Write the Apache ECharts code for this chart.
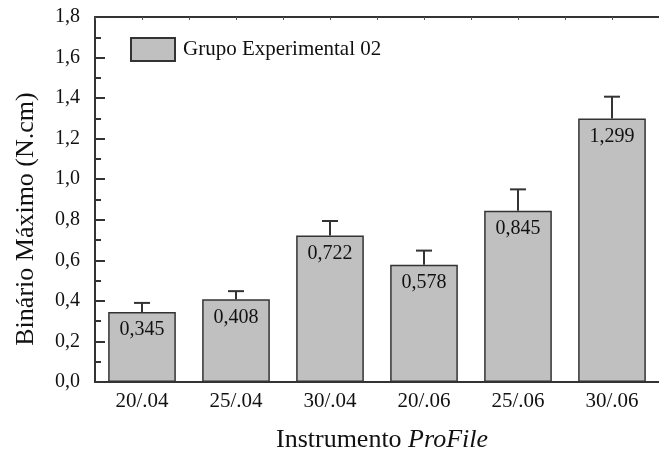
<!DOCTYPE html>
<html>
<head>
<meta charset="utf-8">
<script src="https://cdn.jsdelivr.net/npm/echarts@6/dist/echarts.min.js"></script>
<style>html,body{margin:0;padding:0;background:#fff;}#c{width:659px;height:455px;}</style>
</head>
<body>
<div id="c"></div>
<script>
var categories = ['20/.04', '25/.04', '30/.04', '20/.06', '25/.06', '30/.06'];
var means = [0.345, 0.408, 0.722, 0.578, 0.845, 1.299];
var errors = [0.045, 0.040, 0.072, 0.070, 0.105, 0.108];
var meanLabels = ['0,345', '0,408', '0,722', '0,578', '0,845', '1,299'];
var yTicks = ['0,0', '0,2', '0,4', '0,6', '0,8', '1,0', '1,2', '1,4', '1,6', '1,8'];

var FONT = 'Liberation Serif';
var TXT = '#111';
var chart = echarts.init(document.getElementById('c'));
var errData = means.map(function (m, i) { return [i, m, errors[i]]; });

chart.setOption({
  animation: false,
  backgroundColor: '#fff',
  grid: { left: 95, top: 17, right: -8, bottom: 73 },
  legend: {
    left: 125, top: 32,
    itemWidth: 44, itemHeight: 23, itemGap: 10,
    icon: 'rect',
    textStyle: { fontFamily: FONT, fontSize: 21, color: TXT, padding: [0, 0, 0, 3] },
    data: ['Grupo Experimental 02']
  },
  xAxis: [{
    type: 'category',
    data: categories,
    axisLine: { lineStyle: { color: '#333', width: 2 } },
    axisTick: { inside: true, length: 4, alignWithLabel: false, lineStyle: { color: '#333', width: 2 } },
    axisLabel: { fontFamily: FONT, fontSize: 21, color: TXT, margin: 9 }
  }, {
    type: 'value',
    position: 'top',
    min: 0, max: 6, interval: 0.5,
    axisLine: { show: true, onZero: false, lineStyle: { color: '#333', width: 2 } },
    axisTick: { inside: true, length: 3, lineStyle: { color: '#555', width: 1 } },
    axisLabel: { show: false },
    splitLine: { show: false }
  }],
  yAxis: {
    type: 'value',
    min: 0, max: 1.8, interval: 0.2,
    axisLine: { show: true, lineStyle: { color: '#333', width: 2 } },
    axisTick: { show: true, inside: true, length: 10, lineStyle: { color: '#333', width: 2 } },
    minorTick: { show: true, splitNumber: 2, length: 6, lineStyle: { color: '#333', width: 2 } },
    splitLine: { show: false },
    axisLabel: {
      fontFamily: FONT, fontSize: 20, color: TXT, margin: 15,
      formatter: function (v) { return yTicks[Math.round(v / 0.2)]; }
    }
  },
  graphic: [{
    type: 'text',
    x: 26, y: 219,
    rotation: Math.PI / 2,
    style: {
      text: '{b|Binário} Máximo (N.cm)',
      fontFamily: FONT, fontSize: 26, fill: TXT,
      align: 'center', verticalAlign: 'middle',
      rich: { b: { fontFamily: FONT, fontSize: 26, color: '#1f2d5c' } }
    }
  }, {
    type: 'text',
    x: 382, y: 440,
    style: {
      text: 'Instrumento {i|ProFile}',
      fontFamily: FONT, fontSize: 26, fill: TXT,
      align: 'center', verticalAlign: 'middle',
      rich: { i: { fontFamily: FONT, fontSize: 26, fontStyle: 'italic', color: TXT } }
    }
  }],
  series: [{
    name: 'Grupo Experimental 02',
    type: 'bar',
    data: means,
    barCategoryGap: '28%',
    itemStyle: { color: '#c0c0c0', borderColor: '#333', borderWidth: 1.5 },
    label: {
      show: true, position: 'insideTop', distance: 8,
      fontFamily: FONT, fontSize: 20, color: TXT,
      formatter: function (p) { return meanLabels[p.dataIndex]; }
    },
    z: 2
  }, {
    type: 'custom',
    data: errData,
    z: 3,
    renderItem: function (params, api) {
      var i = api.value(0);
      var top = api.coord([i, api.value(1) + api.value(2)]);
      var base = api.coord([i, api.value(1)]);
      var hw = 8;
      var st = { stroke: '#333', lineWidth: 2 };
      return {
        type: 'group',
        children: [
          { type: 'line', shape: { x1: base[0], y1: base[1], x2: top[0], y2: top[1] }, style: st },
          { type: 'line', shape: { x1: top[0] - hw, y1: top[1], x2: top[0] + hw, y2: top[1] }, style: st }
        ]
      };
    }
  }]
});
</script>
</body>
</html>
